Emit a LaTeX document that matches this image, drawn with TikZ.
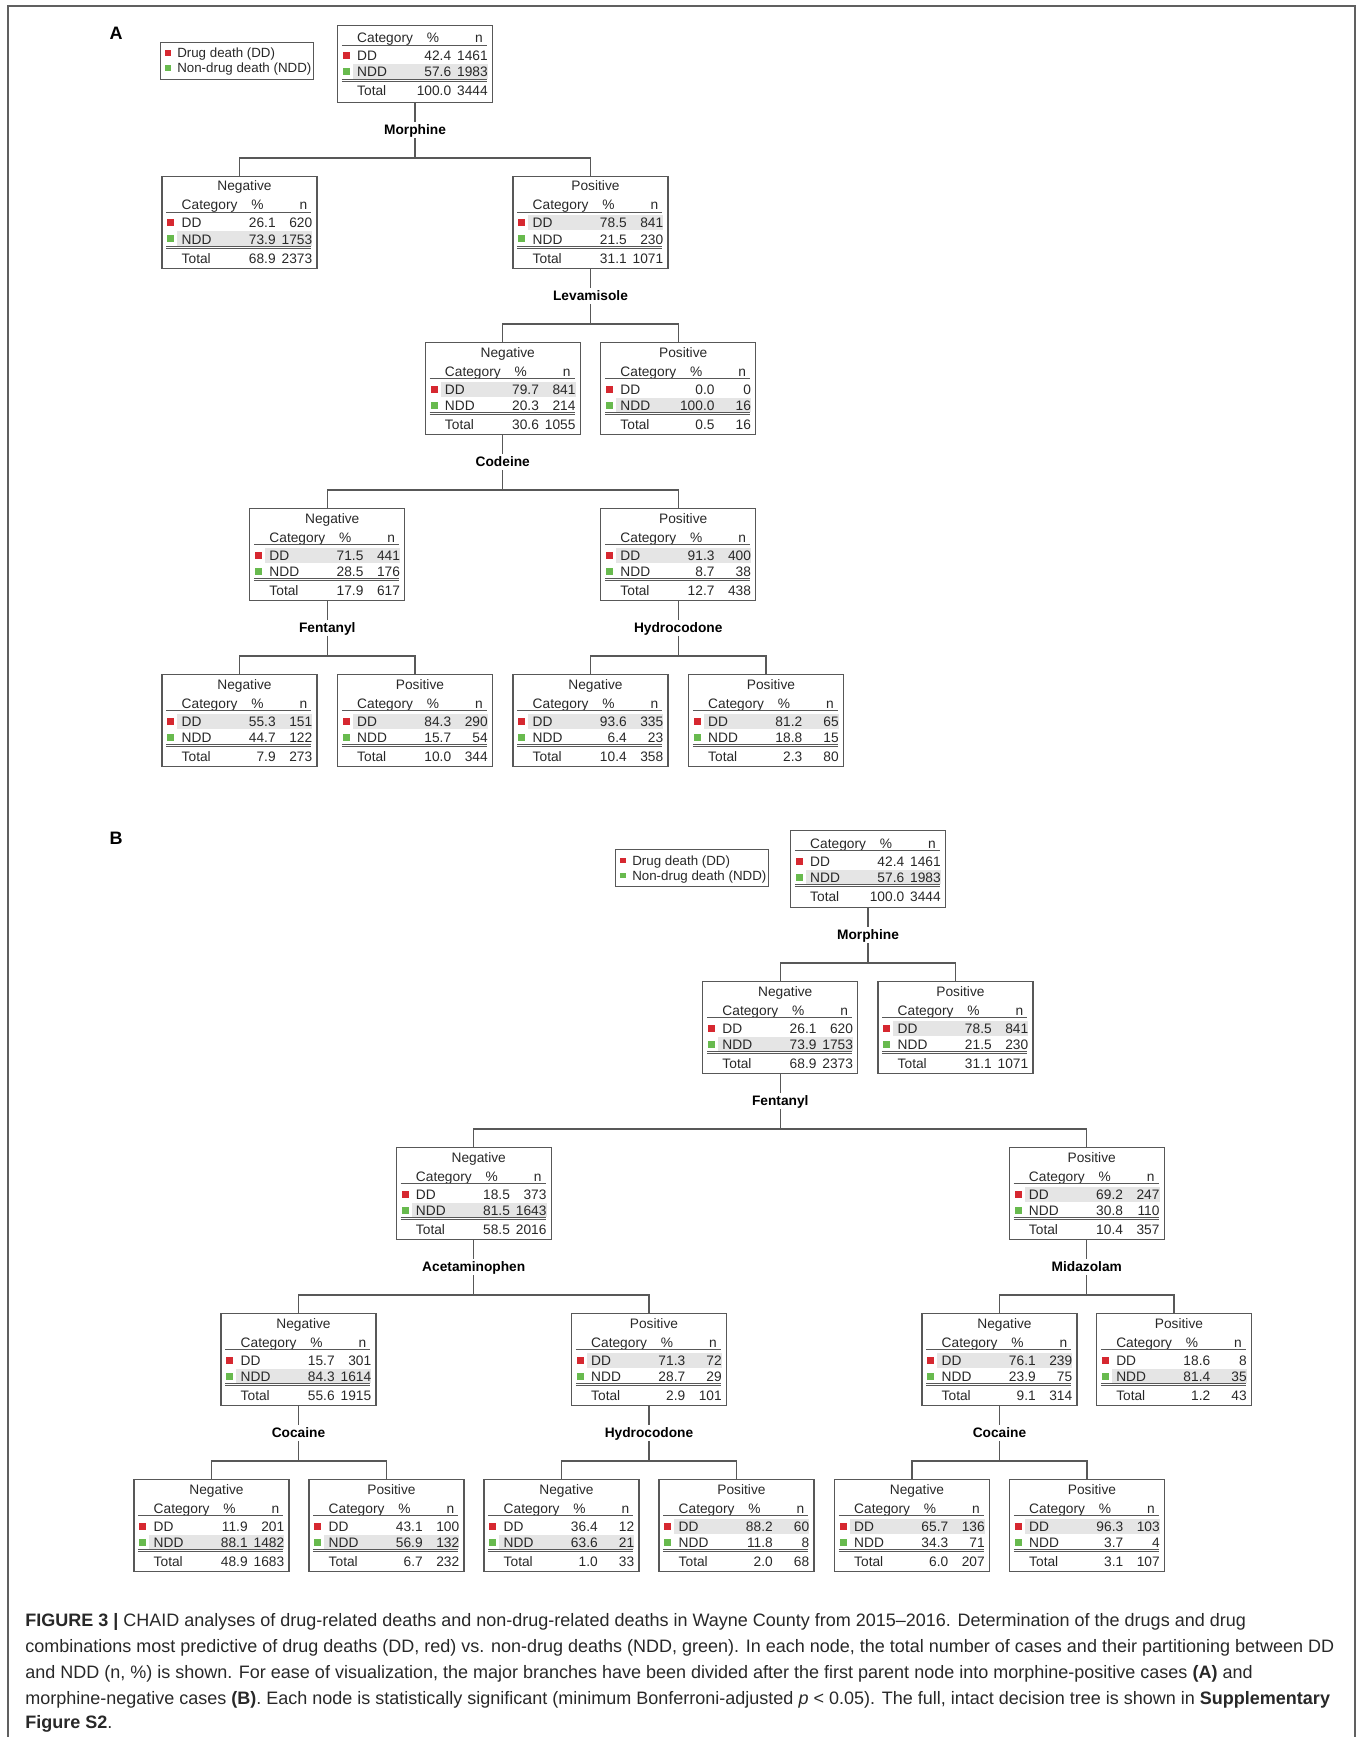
\documentclass[tikz,border=0pt]{standalone}
\usepackage{fontspec}
\setmainfont{Liberation Sans}
\usetikzlibrary{calc}

\definecolor{ddred}{RGB}{214,40,48}
\definecolor{nddgreen}{RGB}{104,186,78}
\definecolor{rowgray}{RGB}{229,229,229}
\definecolor{linegray}{RGB}{88,88,88}
\definecolor{txtgray}{RGB}{40,40,40}

\tikzset{
  cbox/.style={draw=linegray, line width=0.8pt, minimum width=116.25pt, anchor=north, inner sep=0pt},
  celltxt/.style={inner sep=0pt, font=\fontsize{10.3}{12}\selectfont, text=txtgray},
  splitlbl/.style={inner sep=0pt, font=\fontsize{10.3}{12}\selectfont\bfseries, text=black, text height=8pt, text depth=2pt, minimum height=12pt},
  tline/.style={draw=linegray, line width=0.9pt},
  rule/.style={draw=linegray, line width=0.7pt},
  panellbl/.style={inner sep=0pt, font=\fontsize{13.5}{16}\selectfont\bfseries},
  caprow/.style={inner sep=0pt, anchor=base west, font=\fontsize{13.5}{16}\selectfont, text=txtgray},
  frameline/.style={draw=gray!75!black, line width=1.5pt},
}

% one CHAID node: name, top centre, title, DD %, DD n, NDD %, NDD n, total %, total n
\newcommand{\chaidbox}[9]{%
  \if\relax\detokenize{#3}\relax
    \def\cboff{0}\def\cbht{57.75pt}%
  \else
    \def\cboff{16}\def\cbht{69pt}%
  \fi
  \node[cbox, minimum height=\cbht] (#1) at #2 {};
  \begin{scope}[shift={(#1.north west)}, shift={(0,\cboff)}]
    \ifdim #4pt>#6pt
      \fill[rowgray] (16,23.5) rectangle (151,38.5);
    \else
      \fill[rowgray] (16,39.5) rectangle (151,54);
    \fi
    \if\relax\detokenize{#3}\relax\else
      \node[celltxt, anchor=base] (#1-t) at (83,-1) {#3};
    \fi
    \node[celltxt, anchor=base west] (#1-hc) at (20,18) {Category};
    \node[celltxt, anchor=base] (#1-hp) at (96,18) {\%};
    \node[celltxt, anchor=base east] (#1-hn) at (146,18) {n};
    \draw[rule] (5,20) -- (150,20);
    \fill[ddred] (6,27.5) rectangle (13,34.5);
    \fill[nddgreen] (6,43.5) rectangle (13,50.5);
    \node[celltxt, anchor=base west] (#1-dd) at (20,36) {DD};
    \node[celltxt, anchor=base east] (#1-ddp) at (114.5,36) {#4};
    \node[celltxt, anchor=base east] (#1-ddn) at (151,36) {#5};
    \node[celltxt, anchor=base west] (#1-ndd) at (20,52) {NDD};
    \node[celltxt, anchor=base east] (#1-nddp) at (114.5,52) {#6};
    \node[celltxt, anchor=base east] (#1-nddn) at (151,52) {#7};
    \draw[rule] (5,54.3) -- (150,54.3);
    \draw[rule] (5,56.6) -- (150,56.6);
    \node[celltxt, anchor=base west] (#1-tot) at (20,71) {Total};
    \node[celltxt, anchor=base east] (#1-totp) at (114.5,71) {#8};
    \node[celltxt, anchor=base east] (#1-totn) at (151,71) {#9};
  \end{scope}
}

% split: parent, label name, predictor, left child, right child
\newcommand{\chaidsplit}[5]{%
  \node[splitlbl] (#2) at ($(#1.south)+(0,27)$) {#3};
  \coordinate (#2-j) at ($(#1.south)+(0,55)$);
  \draw[tline] (#1.south) -- (#2.north);
  \draw[tline] (#2.south) -- (#2-j);
  \draw[tline] (#4.north) |- (#2-j) -| (#5.north);
}

% legend: name, top left
\newcommand{\chaidlegend}[2]{%
  \node[draw=linegray, line width=0.8pt, minimum width=114.75pt, minimum height=27.75pt, anchor=north west, inner sep=0pt] (#1) at #2 {};
  \begin{scope}[shift={(#1.north west)}]
    \fill[ddred] (5,8.5) rectangle (10.5,14);
    \fill[nddgreen] (5,23.5) rectangle (10.5,29);
    \node[celltxt, font=\fontsize{10}{12}\selectfont, anchor=base west] (#1-dd) at (17,16) {Drug death (DD)};
    \node[celltxt, font=\fontsize{10}{12}\selectfont, anchor=base west] (#1-ndd) at (17,31) {Non-drug death (NDD)};
  \end{scope}
}

\begin{document}
\begin{tikzpicture}[x=0.75pt, y=-0.75pt]
\useasboundingbox (0,0) rectangle (1360,1737);
\draw[frameline] (8,1737) -- (8,6) -- (1355,6) -- (1355,1737);

% panel A
\node[panellbl] (pA) at (116,33) {A};
\chaidlegend{alegend}{(160,42)}
\chaidbox{a0}{(415,25)}{}{42.4}{1461}{57.6}{1983}{100.0}{3444}
\chaidbox{a1}{(239.5,176)}{Negative}{26.1}{620}{73.9}{1753}{68.9}{2373}
\chaidbox{a2}{(590.5,176)}{Positive}{78.5}{841}{21.5}{230}{31.1}{1071}
\chaidbox{a3}{(502.75,342)}{Negative}{79.7}{841}{20.3}{214}{30.6}{1055}
\chaidbox{a4}{(678.25,342)}{Positive}{0.0}{0}{100.0}{16}{0.5}{16}
\chaidbox{a5}{(327.25,508)}{Negative}{71.5}{441}{28.5}{176}{17.9}{617}
\chaidbox{a6}{(678.25,508)}{Positive}{91.3}{400}{8.7}{38}{12.7}{438}
\chaidbox{a7}{(239.5,674)}{Negative}{55.3}{151}{44.7}{122}{7.9}{273}
\chaidbox{a8}{(415,674)}{Positive}{84.3}{290}{15.7}{54}{10.0}{344}
\chaidbox{a9}{(590.5,674)}{Negative}{93.6}{335}{6.4}{23}{10.4}{358}
\chaidbox{a10}{(766,674)}{Positive}{81.2}{65}{18.8}{15}{2.3}{80}
\chaidsplit{a0}{amorph}{Morphine}{a1}{a2}
\chaidsplit{a2}{alevam}{Levamisole}{a3}{a4}
\chaidsplit{a3}{acodei}{Codeine}{a5}{a6}
\chaidsplit{a5}{afenta}{Fentanyl}{a7}{a8}
\chaidsplit{a6}{ahydro}{Hydrocodone}{a9}{a10}

% panel B
\node[panellbl] (pB) at (116,838) {B};
\chaidlegend{blegend}{(615,849)}
\chaidbox{b0}{(868,830)}{}{42.4}{1461}{57.6}{1983}{100.0}{3444}
\chaidbox{b1}{(780.25,981)}{Negative}{26.1}{620}{73.9}{1753}{68.9}{2373}
\chaidbox{b2}{(955.5,981)}{Positive}{78.5}{841}{21.5}{230}{31.1}{1071}
\chaidbox{b3}{(473.75,1147)}{Negative}{18.5}{373}{81.5}{1643}{58.5}{2016}
\chaidbox{b4}{(1086.75,1147)}{Positive}{69.2}{247}{30.8}{110}{10.4}{357}
\chaidbox{b5}{(298.5,1313)}{Negative}{15.7}{301}{84.3}{1614}{55.6}{1915}
\chaidbox{b6}{(649,1313)}{Positive}{71.3}{72}{28.7}{29}{2.9}{101}
\chaidbox{b7}{(999.5,1313)}{Negative}{76.1}{239}{23.9}{75}{9.1}{314}
\chaidbox{b8}{(1174,1313)}{Positive}{18.6}{8}{81.4}{35}{1.2}{43}
\chaidbox{b9}{(211.5,1479)}{Negative}{11.9}{201}{88.1}{1482}{48.9}{1683}
\chaidbox{b10}{(386.5,1479)}{Positive}{43.1}{100}{56.9}{132}{6.7}{232}
\chaidbox{b11}{(561.5,1479)}{Negative}{36.4}{12}{63.6}{21}{1.0}{33}
\chaidbox{b12}{(736.5,1479)}{Positive}{88.2}{60}{11.8}{8}{2.0}{68}
\chaidbox{b13}{(912,1479)}{Negative}{65.7}{136}{34.3}{71}{6.0}{207}
\chaidbox{b14}{(1087,1479)}{Positive}{96.3}{103}{3.7}{4}{3.1}{107}
\chaidsplit{b0}{bmorph}{Morphine}{b1}{b2}
\chaidsplit{b1}{bfenta}{Fentanyl}{b3}{b4}
\chaidsplit{b3}{bacet}{Acetaminophen}{b5}{b6}
\chaidsplit{b4}{bmidaz}{Midazolam}{b7}{b8}
\chaidsplit{b5}{bcoca}{Cocaine}{b9}{b10}
\chaidsplit{b6}{bhydro}{Hydrocodone}{b11}{b12}
\chaidsplit{b7}{bcocb}{Cocaine}{b13}{b14}

% caption
\node[caprow] (cap1) at (25,1626) {\textbf{FIGURE 3 |} CHAID analyses of drug-related deaths and non-drug-related deaths in Wayne County from 2015--2016. Determination of the drugs and drug};
\node[caprow] (cap2) at (25,1652) {combinations most predictive of drug deaths (DD, red) vs. non-drug deaths (NDD, green). In each node, the total number of cases and their partitioning between DD};
\node[caprow] (cap3) at (25,1678) {and NDD (n, \%) is shown. For ease of visualization, the major branches have been divided after the first parent node into morphine-positive cases \textbf{(A)} and};
\node[caprow] (cap4) at (25,1704) {morphine-negative cases \textbf{(B)}. Each node is statistically significant (minimum Bonferroni-adjusted \textit{p} < 0.05). The full, intact decision tree is shown in \textbf{Supplementary}};
\node[caprow] (cap5) at (25,1728) {\textbf{Figure S2}.};
\end{tikzpicture}
\end{document}
